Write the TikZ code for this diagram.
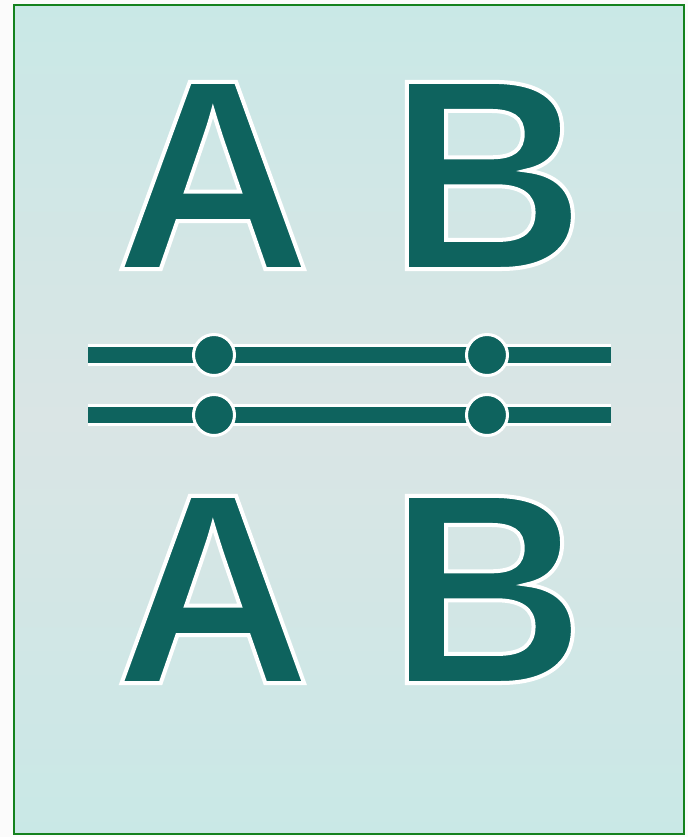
\documentclass[tikz,border=0pt]{standalone}
\usepackage{fontspec}
\setmainfont{Liberation Sans}
\usetikzlibrary{calc,positioning}
\definecolor{tealdark}{RGB}{14,99,94}
\definecolor{bgtop}{RGB}{201,232,230}
\definecolor{bgmid}{RGB}{218,229,229}
\definecolor{framegreen}{RGB}{20,130,30}
% white rim round the glyphs (fill, then stroke in white)
\newcommand{\rimtext}[1]{\special{pdf:literal direct 1 1 1 RG 2 w 2 Tr}#1\special{pdf:literal direct 0 Tr}}
\begin{document}
\begin{tikzpicture}[x=0.5pt, y=-0.5pt,
    letter/.style={anchor=base, inner sep=0pt, text=tealdark, font=\fontsize{136pt}{136pt}\bfseries},
    rail/.style={line width=8pt, draw=tealdark},
    railglow/.style={line width=11pt, draw=white},
    knob/.style={circle, fill=tealdark, draw=white, line width=1.5pt, minimum size=20.5pt, inner sep=0pt}]
      \useasboundingbox (0,0) rectangle (688,837);
      \fill[white!97!gray] (0,0) rectangle (688,837);
      % background panel
      \shade[top color=bgtop, bottom color=bgtop, middle color=bgmid] (13.5,4.5) rectangle (683.5,833.5);
      \draw[framegreen, line width=1pt] (13.5,4.5) rectangle (683.5,833.5);
      % letters
      \foreach \row/\y in {top/269, bot/683} {
          \node[letter] (A\row) at (213,\y) {\rimtext{A}};
          \node[letter] (B\row) at (487,\y) {\rimtext{B}};
        }
      % rails with knobs
      \foreach \i/\y in {1/355, 2/415} {
          \coordinate (railL\i) at (88,\y);
          \coordinate (railR\i) at (611,\y);
          \draw[railglow] (railL\i) -- (railR\i);
          \draw[rail] (railL\i) -- (railR\i);
          \node[knob] (knobA\i) at (214,\y) {};
          \node[knob] (knobB\i) at (487,\y) {};
        }
    \end{tikzpicture}
\end{document}
